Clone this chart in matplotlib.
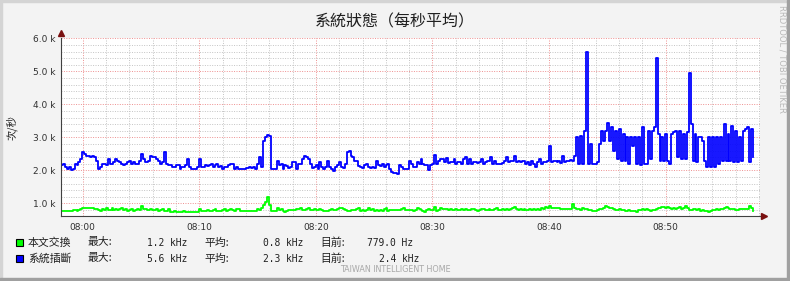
import numpy as np
import matplotlib
matplotlib.use("Agg")
import matplotlib.pyplot as plt
from matplotlib.ticker import MultipleLocator
from matplotlib.patches import Rectangle

# ---- data (kHz, one sample every 10 s, first sample 07:58:09) ----
start_min = -1.86
step_min = 10.0 / 60.0

interrupts = [
    2.15, 2.2, 2.1, 2.05, 2.1, 2.0, 2.05, 2.2, 2.15, 2.25,
    2.35, 2.55, 2.5, 2.45, 2.45, 2.4, 2.45, 2.4, 2.3, 2.05,
    2.1, 2.2, 2.2, 2.15, 2.35, 2.2, 2.2, 2.25, 2.35, 2.3,
    2.25, 2.2, 2.15, 2.2, 2.25, 2.3, 2.2, 2.25, 2.2, 2.2,
    2.3, 2.5, 2.35, 2.25, 2.25, 2.3, 2.45, 2.4, 2.4, 2.35,
    2.3, 2.2, 2.25, 2.55, 2.2, 2.15, 2.15, 2.1, 2.1, 2.15,
    2.15, 2.05, 2.1, 2.1, 2.15, 2.35, 2.1, 2.05, 2.05, 2.05,
    2.1, 2.35, 2.1, 2.1, 2.15, 2.12, 2.15, 2.2, 2.1, 2.15,
    2.2, 2.1, 2.12, 2.05, 2.1, 2.1, 2.15, 2.2, 2.2, 2.05,
    2.1, 2.03, 2.03, 2.05, 2.03, 2.08, 2.08, 2.1, 2.08, 2.1,
    2.05, 2.2, 2.42, 2.1, 2.9, 3.0, 3.08, 3.05, 2.05, 2.05,
    2.05, 2.3, 2.15, 2.2, 2.05, 2.15, 2.12, 2.08, 2.1, 2.25,
    2.25, 2.05, 2.2, 2.2, 2.35, 2.45, 2.4, 2.35, 2.2, 2.08,
    2.1, 2.15, 2.05, 2.25, 2.1, 2.05, 2.1, 2.28, 2.1, 2.05,
    1.97, 2.1, 2.15, 2.25, 2.1, 2.08, 2.2, 2.55, 2.6, 2.45,
    2.4, 2.3, 2.3, 2.12, 2.1, 2.08, 2.15, 2.2, 2.1, 2.08,
    2.1, 2.08, 2.3, 2.15, 2.12, 2.2, 2.1, 2.15, 2.2, 2.05,
    1.95, 1.93, 1.93, 1.9, 2.15, 2.1, 2.05, 2.03, 2.05, 2.3,
    2.2, 2.1, 2.1, 2.25, 2.2, 2.35, 2.2, 2.15, 2.15, 2.02,
    2.15, 2.2, 2.48, 2.2, 2.3, 2.35, 2.35, 2.25, 2.38, 2.22,
    2.25, 2.25, 2.35, 2.2, 2.25, 2.25, 2.2, 2.35, 2.42, 2.2,
    2.35, 2.2, 2.25, 2.25, 2.22, 2.25, 2.35, 2.2, 2.25, 2.3,
    2.3, 2.42, 2.2, 2.3, 2.2, 2.2, 2.2, 2.22, 2.28, 2.42,
    2.25, 2.3, 2.3, 2.45, 2.25, 2.3, 2.25, 2.3, 2.3, 2.2,
    2.25, 2.15, 2.28, 2.2, 2.1, 2.25, 2.35, 2.2, 2.25, 2.25,
    2.3, 2.75, 2.25, 2.3, 2.3, 2.25, 2.3, 2.22, 2.45, 2.25,
    2.3, 2.3, 2.32, 2.3, 2.45, 3.0, 2.2, 3.05, 2.2, 3.2,
    5.6, 2.2, 2.8, 2.2, 2.2, 2.2, 2.25, 2.8, 3.2, 2.9,
    3.2, 3.45, 2.9, 3.3, 2.6, 3.2, 2.35, 3.25, 2.3, 3.1,
    2.3, 3.0, 2.2, 3.0, 2.75, 3.0, 2.2, 3.0, 2.15, 3.3,
    2.2, 2.2, 3.2, 2.35, 3.2, 3.3, 5.4, 3.1, 2.3, 3.0,
    2.3, 3.1, 2.3, 2.2, 3.1, 3.15, 3.2, 2.4, 3.2, 2.35,
    3.1, 2.35, 3.15, 4.95, 3.4, 2.3, 3.1, 2.25, 3.0, 3.0,
    2.9, 2.3, 2.1, 3.0, 2.1, 3.0, 2.1, 3.0, 2.2, 3.0,
    2.3, 3.4, 2.3, 3.1, 2.3, 3.35, 2.25, 3.2, 2.25, 3.0,
    2.3, 3.2, 3.25, 3.3, 2.25, 3.25, 2.4,
]

switches = [
    0.78, 0.76, 0.78, 0.77, 0.78, 0.76, 0.79, 0.8, 0.78, 0.8,
    0.82, 0.86, 0.87, 0.86, 0.87, 0.86, 0.85, 0.84, 0.82, 0.8,
    0.78, 0.82, 0.8, 0.85, 0.8, 0.8, 0.86, 0.8, 0.82, 0.8,
    0.82, 0.85, 0.8, 0.82, 0.78, 0.8, 0.82, 0.78, 0.8, 0.84,
    0.8, 0.93, 0.82, 0.82, 0.8, 0.8, 0.84, 0.8, 0.8, 0.82,
    0.78, 0.8, 0.82, 0.78, 0.78, 0.82, 0.75, 0.75, 0.76, 0.75,
    0.75, 0.75, 0.75, 0.76, 0.75, 0.75, 0.75, 0.75, 0.75, 0.75,
    0.75, 0.84, 0.78, 0.76, 0.78, 0.8, 0.78, 0.78, 0.8, 0.82,
    0.78, 0.78, 0.78, 0.8, 0.82, 0.78, 0.8, 0.82, 0.8, 0.78,
    0.82, 0.82, 0.77, 0.77, 0.77, 0.77, 0.77, 0.77, 0.77, 0.77,
    0.77, 0.83, 0.8, 0.85, 0.95, 1.05, 1.2, 0.95, 0.76, 0.76,
    0.78, 0.85, 0.8, 0.82, 0.78, 0.75, 0.78, 0.8, 0.8, 0.8,
    0.8, 0.82, 0.82, 0.86, 0.8, 0.8, 0.82, 0.85, 0.8, 0.8,
    0.82, 0.8, 0.8, 0.82, 0.8, 0.78, 0.77, 0.78, 0.8, 0.83,
    0.8, 0.8, 0.82, 0.85, 0.86, 0.82, 0.8, 0.78, 0.78, 0.8,
    0.8, 0.8, 0.82, 0.85, 0.78, 0.8, 0.78, 0.8, 0.86, 0.8,
    0.82, 0.78, 0.8, 0.78, 0.8, 0.77, 0.82, 0.85, 0.78, 0.8,
    0.8, 0.8, 0.8, 0.8, 0.8, 0.82, 0.85, 0.8, 0.8, 0.8,
    0.8, 0.78, 0.8, 0.85, 0.82, 0.8, 0.78, 0.75, 0.8, 0.82,
    0.8, 0.8, 0.88, 0.78, 0.8, 0.86, 0.82, 0.84, 0.82, 0.8,
    0.82, 0.8, 0.8, 0.84, 0.8, 0.8, 0.82, 0.8, 0.82, 0.8,
    0.8, 0.82, 0.84, 0.8, 0.78, 0.8, 0.82, 0.84, 0.8, 0.8,
    0.82, 0.8, 0.8, 0.82, 0.85, 0.8, 0.8, 0.84, 0.8, 0.82,
    0.8, 0.82, 0.85, 0.9, 0.82, 0.8, 0.82, 0.8, 0.84, 0.8,
    0.8, 0.82, 0.8, 0.84, 0.8, 0.82, 0.8, 0.85, 0.82, 0.88,
    0.86, 0.92, 0.86, 0.86, 0.86, 0.85, 0.86, 0.84, 0.82, 0.84,
    0.83, 0.82, 0.82, 0.97, 0.86, 0.84, 0.82, 0.8, 0.86, 0.82,
    0.82, 0.8, 0.8, 0.78, 0.78, 0.78, 0.8, 0.82, 0.84, 0.85,
    0.92, 0.88, 0.86, 0.85, 0.82, 0.8, 0.8, 0.82, 0.8, 0.8,
    0.78, 0.78, 0.8, 0.78, 0.78, 0.76, 0.74, 0.8, 0.8, 0.82,
    0.8, 0.82, 0.8, 0.78, 0.8, 0.8, 0.82, 0.85, 0.86, 0.9,
    0.88, 0.85, 0.9, 0.86, 0.82, 0.85, 0.84, 0.85, 0.88, 0.84,
    0.85, 0.93, 0.85, 0.8, 0.8, 0.82, 0.82, 0.8, 0.82, 0.78,
    0.8, 0.78, 0.76, 0.74, 0.78, 0.8, 0.8, 0.82, 0.8, 0.82,
    0.82, 0.86, 0.9, 0.86, 0.84, 0.82, 0.82, 0.8, 0.8, 0.82,
    0.84, 0.84, 0.84, 0.84, 0.93, 0.86, 0.78,
]

x_ticks = [0, 10, 20, 30, 40, 50]
x_labels = ["08:00", "08:10", "08:20", "08:30", "08:40", "08:50"]
y_ticks = [1.0, 2.0, 3.0, 4.0, 5.0, 6.0]
y_labels = ["1.0 k", "2.0 k", "3.0 k", "4.0 k", "5.0 k", "6.0 k"]

series_names = ["本文交換", "系統插斷"]
series_max = ["1.2 kHz", "5.6 kHz"]
series_avg = ["0.8 kHz", "2.3 kHz"]
series_now = ["779.0 Hz", "2.4 kHz"]
series_colors = ["#00FF00", "#0000FF"]

CJK = ["Noto Sans CJK TC", "DejaVu Sans"]
W, H = 790, 281

fig = plt.figure(figsize=(W / 100, H / 100), dpi=100)
fig.patch.set_facecolor("#F3F3F3")

# rrdtool style frame
fig.patches.append(Rectangle((0, 1 - 2 / H), 1, 2 / H, transform=fig.transFigure, color="#D4D4D4", zorder=0))
fig.patches.append(Rectangle((0, 0), 2 / W, 1, transform=fig.transFigure, color="#D4D4D4", zorder=0))
fig.patches.append(Rectangle((0, 0), 1, 3 / H, transform=fig.transFigure, color="#A0A0A0", zorder=0))
fig.patches.append(Rectangle((1 - 3 / W, 0), 3 / W, 1, transform=fig.transFigure, color="#A0A0A0", zorder=0))

ax = fig.add_axes([61 / W, 1 - 216 / H, (760 - 61) / W, (216 - 38.3) / H])
ax.set_facecolor("white")

t = start_min + np.arange(len(interrupts)) * step_min
ax.plot(t, switches, drawstyle="steps-post", color=series_colors[0], lw=1.3, zorder=3)
ax.plot(t, interrupts, drawstyle="steps-post", color=series_colors[1], lw=1.3, zorder=4)

ax.set_xlim(start_min, start_min + 59.95)
ax.set_ylim(0.62, 6.0)

ax.set_xticks(x_ticks, x_labels)
ax.set_yticks(y_ticks, y_labels)
ax.xaxis.set_minor_locator(MultipleLocator(2))
ax.yaxis.set_minor_locator(MultipleLocator(0.2))
ax.grid(which="minor", color="#C4C4C4", linestyle=(0, (1, 1.5)), lw=0.7, zorder=1)
ax.grid(which="major", color="#EE9090", linestyle=(0, (1, 1.5)), lw=0.7, zorder=2)
ax.tick_params(which="both", length=0, labelsize=6.5, colors="#303030", pad=4)
ax.tick_params(axis="x", pad=5)

for s in ["top", "right"]:
    ax.spines[s].set_visible(False)
for s in ["left", "bottom"]:
    ax.spines[s].set_color("#404040")
    ax.spines[s].set_linewidth(0.8)
    ax.spines[s].set_zorder(5)

# axis arrows
ax.plot([0], [1.03], marker="^", ms=4, color="#7A1010", transform=ax.transAxes, clip_on=False)
ax.plot([1.006], [0], marker=">", ms=4, color="#7A1010", transform=ax.transAxes, clip_on=False)

fig.text(395 / W, 1 - 22 / H, "系統狀態（每秒平均）", family=CJK, fontsize=11.5,
         ha="center", va="center", color="#202020")
fig.text(12 / W, 1 - 128 / H, "次/秒", family=CJK, fontsize=7.5, rotation=90,
         ha="center", va="center", color="#202020")
fig.text(782 / W, 1 - 5 / H, "RRDTOOL / TOBI OETIKER", fontsize=6, rotation=270,
         ha="center", va="top", color="#B8B8B8")
fig.text(395 / W, 1 - 270 / H, "TAIWAN INTELLIGENT HOME", fontsize=5.8,
         ha="center", va="center", color="#A8A8A8")

# legend rows
rows_y = [242.5, 258.5]
for k in range(2):
    yy = 1 - rows_y[k] / H
    fig.patches.append(Rectangle((15.5 / W, yy - 3.5 / H), 7 / W, 7 / H, transform=fig.transFigure,
                                 facecolor=series_colors[k], edgecolor="black", lw=0.8))
    fig.text(28 / W, yy, series_names[k], family=CJK, fontsize=7.8, va="center", color="#202020")
    fig.text(88 / W, yy, "最大:", family=CJK, fontsize=7.8, va="center", color="#202020")
    fig.text(187 / W, yy, series_max[k], family="DejaVu Sans Mono", fontsize=6.9,
             ha="right", va="center", color="#202020")
    fig.text(204 / W, yy, "平均:", family=CJK, fontsize=7.8, va="center", color="#202020")
    fig.text(303.5 / W, yy, series_avg[k], family="DejaVu Sans Mono", fontsize=6.9,
             ha="right", va="center", color="#202020")
    fig.text(320.5 / W, yy, "目前:", family=CJK, fontsize=7.8, va="center", color="#202020")
    fig.text((413 if k == 0 else 419) / W, yy, series_now[k], family="DejaVu Sans Mono", fontsize=6.9,
             ha="right", va="center", color="#202020")

fig.savefig("out.png", dpi=100, facecolor=fig.get_facecolor())
